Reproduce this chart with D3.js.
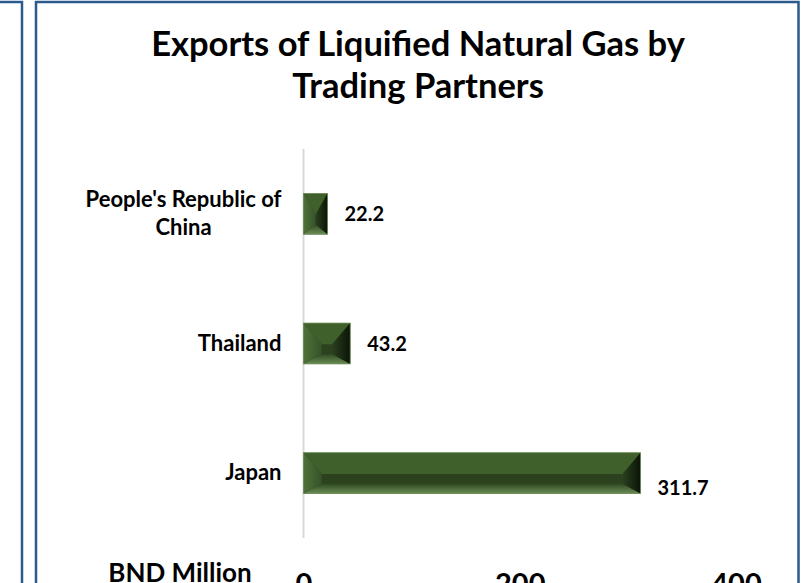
<!DOCTYPE html>
<html>
<head>
<meta charset="utf-8">
<script src="https://cdn.jsdelivr.net/npm/d3@7"></script>
<style>
  html, body { margin: 0; padding: 0; background: #fff; }
  svg { display: block; font-family: Lato, "Open Sans", sans-serif; font-weight: bold; }
</style>
</head>
<body>
<div class="container"></div>
<script>
// values
const partners = ["People's Republic of China", "Thailand", "Japan"];
const exportsBND = [22.2, 43.2, 311.7];
const xTicks = [0, 200, 400];
const titleLines = ["Exports of Liquified Natural Gas by", "Trading Partners"];
const unitLabel = "BND Million";

const width = 811;
const height = 583;
const border = "#2b5a8c";

const svg = d3.select('.container')
    .append('svg')
    .attr('width', width)
    .attr('height', height);

// panel borders (left panel is cut by the window edge)
svg.append('path')
    .attr('d', 'M0,2 H22 V583')
    .attr('fill', 'none')
    .attr('stroke', border)
    .attr('stroke-width', 2.5);
svg.append('path')
    .attr('d', 'M36,583 V2 H798.5 V583')
    .attr('fill', 'none')
    .attr('stroke', border)
    .attr('stroke-width', 2.5);

// title
svg.append('text')
    .attr('x', 418)
    .attr('y', 56)
    .attr('text-anchor', 'middle')
    .attr('font-size', 34.5)
    .selectAll('tspan')
    .data(titleLines)
    .enter()
    .append('tspan')
    .attr('x', 418)
    .attr('dy', (d, i) => i ? 42 : 0)
    .text(d => d);

const x = d3.scaleLinear().domain([0, 400]).range([303.5, 736]);
const y = d3.scaleBand().domain(partners).range([149, 538])
    .paddingInner(0.685).paddingOuter(0.3425);

const data = partners.map((p, i) => ({ name: p, value: exportsBND[i] }));

// vertical axis line
svg.append('line')
    .attr('x1', x(0)).attr('x2', x(0))
    .attr('y1', y.range()[0]).attr('y2', y.range()[1])
    .attr('stroke', '#d9d9d9')
    .attr('stroke-width', 2);

// gradients for bevel faces
const defs = svg.append('defs');
const gb = defs.append('linearGradient').attr('id', 'bot').attr('x1', 0).attr('x2', 0).attr('y1', 0).attr('y2', 1);
gb.append('stop').attr('offset', '0%').attr('stop-color', '#2f4a22');
gb.append('stop').attr('offset', '100%').attr('stop-color', '#6a8c55');
const gr = defs.append('linearGradient').attr('id', 'rgt').attr('x1', 0).attr('x2', 1).attr('y1', 0).attr('y2', 0);
gr.append('stop').attr('offset', '0%').attr('stop-color', '#2a4020');
gr.append('stop').attr('offset', '100%').attr('stop-color', '#0b1406');
const gl = defs.append('linearGradient').attr('id', 'lft').attr('x1', 0).attr('x2', 1).attr('y1', 0).attr('y2', 0);
gl.append('stop').attr('offset', '0%').attr('stop-color', '#4f7238');
gl.append('stop').attr('offset', '100%').attr('stop-color', '#36532a');

const bars = svg.selectAll('.bar')
    .data(data)
    .enter()
    .append('g')
    .attr('class', 'bar');

function faces(d) {
    const x0 = x(0), x1 = x(d.value);
    const y0 = y(d.name), y1 = y0 + y.bandwidth();
    const bx = Math.min(18, (x1 - x0) / 2);
    const yt = y0 + y.bandwidth() * 0.52;
    const yb = y1 - y.bandwidth() * 0.24;
    return [
        { pts: [[x0, y0], [x1, y0], [x1, y1], [x0, y1]], fill: '#2c421e' },
        { pts: [[x0, y0], [x1, y0], [x1 - bx, yt], [x0 + bx, yt]], fill: '#3f5f2b' },
        { pts: [[x0, y1], [x1, y1], [x1 - bx, yb], [x0 + bx, yb]], fill: 'url(#bot)' },
        { pts: [[x0, y0], [x0 + bx, yt], [x0 + bx, yb], [x0, y1]], fill: 'url(#lft)' },
        { pts: [[x1, y0], [x1 - bx, yt], [x1 - bx, yb], [x1, y1]], fill: 'url(#rgt)' },
    ];
}

bars.selectAll('polygon')
    .data(d => faces(d))
    .enter()
    .append('polygon')
    .attr('points', f => f.pts.map(p => p.join(',')).join(' '))
    .attr('fill', f => f.fill);

bars.append('rect')
    .attr('x', d => x(0))
    .attr('y', d => y(d.name))
    .attr('width', d => x(d.value) - x(0))
    .attr('height', y.bandwidth())
    .attr('fill', 'none')
    .attr('stroke', '#6f8f5a')
    .attr('stroke-width', 0.8);

// value labels (the last one sits lower in the original)
const labelDrop = [0, 0, 15];
bars.append('text')
    .attr('x', d => x(d.value) + 17)
    .attr('y', (d, i) => y(d.name) + y.bandwidth() / 2 + labelDrop[i])
    .attr('dy', '0.35em')
    .attr('font-size', 20)
    .text(d => d.value.toFixed(1));

// category axis
const yAxis = svg.append('g')
    .attr('transform', `translate(${x(0)},0)`)
    .call(d3.axisLeft(y).tickSize(0).tickPadding(22));
yAxis.select('.domain').remove();
yAxis.selectAll('text')
    .attr('font-size', 22)
    .attr('font-family', 'Lato, sans-serif')
    .attr('font-weight', 'bold')
    .attr('fill', '#000')
    .each(function (d) {
        const t = d3.select(this);
        if (d.startsWith("People's")) {
            t.text(null).attr('dy', null);
            const first = t.append('tspan').attr('x', -22).attr('dy', '-0.3em').text("People's Republic of");
            const w = first.node().getComputedTextLength();
            t.append('tspan').attr('x', -22 - w / 2).attr('dy', 28).attr('text-anchor', 'middle')
                .text('China');
        }
    });

// value axis
const xAxis = svg.append('g')
    .attr('transform', 'translate(0,570)')
    .call(d3.axisBottom(x).tickValues(xTicks).tickSize(0).tickPadding(3));
xAxis.select('.domain').remove();
xAxis.selectAll('text')
    .attr('font-size', 29)
    .attr('font-family', 'Lato, sans-serif')
    .attr('font-weight', 'bold')
    .attr('fill', '#000');

svg.append('text')
    .attr('x', 180)
    .attr('y', 582)
    .attr('text-anchor', 'middle')
    .attr('font-size', 26)
    .text(unitLabel);
</script>
</body>
</html>
